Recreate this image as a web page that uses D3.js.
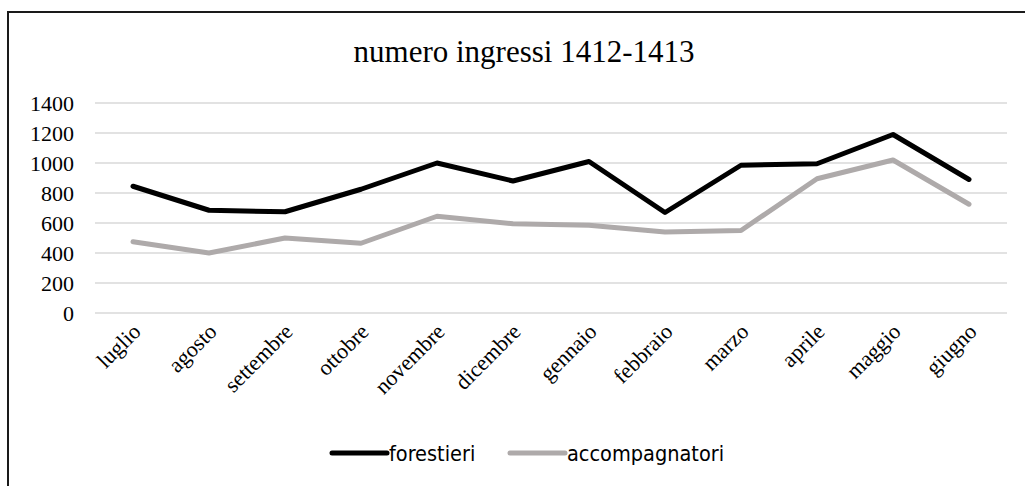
<!DOCTYPE html>
<html>
<head>
<meta charset="utf-8">
<script src="https://cdn.jsdelivr.net/npm/d3@7"></script>
<style>
  body { margin: 0; background: #fff; }
  svg { display: block; }
</style>
</head>
<body>
<svg id="chart" width="1025" height="486"></svg>
<script>
// dati
var mesi = ["luglio", "agosto", "settembre", "ottobre", "novembre", "dicembre",
            "gennaio", "febbraio", "marzo", "aprile", "maggio", "giugno"];
var forestieri = [845, 685, 675, 825, 1000, 880, 1010, 670, 985, 995, 1190, 890];
var accompagnatori = [475, 400, 500, 465, 645, 595, 585, 540, 550, 895, 1020, 725];
var yTicks = [0, 200, 400, 600, 800, 1000, 1200, 1400];
var serie = [
    {name: "forestieri", values: forestieri, color: "#000000"},
    {name: "accompagnatori", values: accompagnatori, color: "#aeaaaa"}
];

var svg = d3.select("#chart"),
    width = +svg.attr("width"),
    height = +svg.attr("height");

var margin = {left: 95, right: 18, top: 103, bottom: 173};
var serif = "'Liberation Serif', 'Times New Roman', serif";

// cornice
svg.append("rect")
    .attr("x", 8).attr("y", 12)
    .attr("width", width + 10).attr("height", height + 10)
    .attr("fill", "none")
    .attr("stroke", "#1a1a1a")
    .attr("stroke-width", 2);

svg.append("text")
    .attr("x", 524).attr("y", 62)
    .attr("text-anchor", "middle")
    .style("font-family", serif)
    .style("font-size", "31px")
    .text("numero ingressi 1412-1413");

var x = d3.scaleBand()
    .domain(mesi)
    .range([margin.left, width - margin.right]);

var y = d3.scaleLinear()
    .domain([0, 1400])
    .range([height - margin.bottom, margin.top]);

// griglia
svg.append("g")
    .selectAll("line")
    .data(yTicks)
    .enter().append("line")
    .attr("x1", margin.left)
    .attr("x2", width - margin.right)
    .attr("y1", function (d) { return y(d); })
    .attr("y2", function (d) { return y(d); })
    .attr("stroke", "#d9d9d9")
    .attr("stroke-width", 1.5);

var yAxis = svg.append("g")
    .attr("transform", "translate(" + (margin.left - 21) + ",0)")
    .call(d3.axisLeft(y).tickValues(yTicks).tickFormat(d3.format("d")).tickSize(0).tickPadding(0));
yAxis.select(".domain").remove();
yAxis.selectAll("text")
    .attr("dy", "0.35em")
    .style("font-family", serif)
    .style("font-size", "22px")
    .attr("fill", "#000");

var xAxis = svg.append("g")
    .attr("transform", "translate(0," + (height - margin.bottom) + ")")
    .call(d3.axisBottom(x).tickSize(0).tickPadding(0));
xAxis.select(".domain").remove();
xAxis.selectAll("text")
    .attr("text-anchor", "end")
    .attr("dy", null)
    .attr("transform", "translate(9,20) rotate(-45)")
    .style("font-family", serif)
    .style("font-size", "22px")
    .attr("fill", "#000");

var line = d3.line()
    .x(function (d, i) { return x(mesi[i]) + x.bandwidth() / 2; })
    .y(function (d) { return y(d); });

svg.append("g")
    .selectAll("path")
    .data(serie.slice().reverse())
    .enter().append("path")
    .attr("d", function (d) { return line(d.values); })
    .attr("fill", "none")
    .attr("stroke", function (d) { return d.color; })
    .attr("stroke-width", 5)
    .attr("stroke-linejoin", "round")
    .attr("stroke-linecap", "round");

// legenda
var legendX = [330, 508];
var legend = svg.append("g")
    .selectAll("g")
    .data(serie)
    .enter().append("g")
    .attr("transform", function (d, i) { return "translate(" + legendX[i] + ",453)"; });

legend.append("line")
    .attr("x1", 2).attr("x2", 57)
    .attr("stroke", function (d) { return d.color; })
    .attr("stroke-width", 5)
    .attr("stroke-linecap", "round");

legend.append("text")
    .attr("x", 59)
    .attr("dy", "0.35em")
    .style("font-family", "'Liberation Sans Narrow', 'DejaVu Sans Condensed', sans-serif")
    .style("font-size", "21.5px")
    .text(function (d) { return d.name; });
</script>
</body>
</html>
